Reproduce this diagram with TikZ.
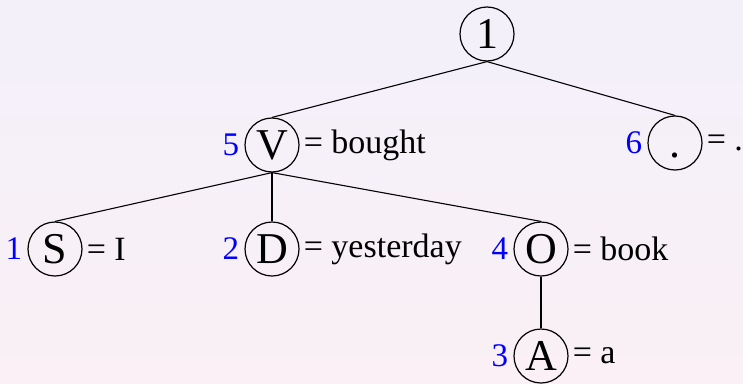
\documentclass[tikz,border=0pt]{standalone}
\usepackage{fontspec}
\setmainfont{Liberation Serif}
\definecolor{bgtop}{RGB}{243,240,250}
\definecolor{bgbot}{RGB}{250,240,245}
\begin{document}
\begin{tikzpicture}[x=1pt,y=-1pt,
  cnode/.style={draw,circle,line width=1.2pt,minimum size=54pt,inner sep=0pt,
    font=\fontsize{44}{44}\selectfont,text height=29pt,text depth=0pt},
  num/.style={anchor=east,text=blue,inner sep=5pt,font=\fontsize{33}{33}\selectfont},
  lab/.style={anchor=west,inner sep=4pt,font=\fontsize{34}{34}\selectfont},
  edge/.style={line width=1.1pt}]
\shade[top color=bgtop,bottom color=bgbot] (0,0) rectangle (743,383);
\useasboundingbox (0,0) rectangle (743,383);
\node[cnode] (r) at (487,34) {1};
\node[cnode] (v) at (272,145) {V};
\node[cnode] (p) at (675,143) {.};
\node[cnode] (s) at (55,249) {S};
\node[cnode] (d) at (272,249) {D};
\node[cnode] (o) at (541,249) {O};
\node[cnode] (a) at (541,356) {A};
\node[num] (nv) at (v.west) {5};
\node[num] (np) at (p.west) {6};
\node[num] (ns) at (s.west) {1};
\node[num] (nd) at (d.west) {2};
\node[num] (no) at (o.west) {4};
\node[num] (na) at (a.west) {3};
\node[lab] (lv) at (v.east) {= bought};
\node[lab] (lp) at (p.east) {= .};
\node[lab] (ls) at (s.east) {= I};
\node[lab] (ld) at (d.east) {= yesterday};
\node[lab] (lo) at (o.east) {= book};
\node[lab] (la) at (a.east) {= a};
\draw[edge] (r.south) -- (v.north);
\draw[edge] (r.south) -- (p.north);
\draw[edge] (v.south) -- (s.north);
\draw[edge] (v.south) -- (d.north);
\draw[edge] (v.south) -- (o.north);
\draw[edge] (o.south) -- (a.north);
\end{tikzpicture}
\end{document}
